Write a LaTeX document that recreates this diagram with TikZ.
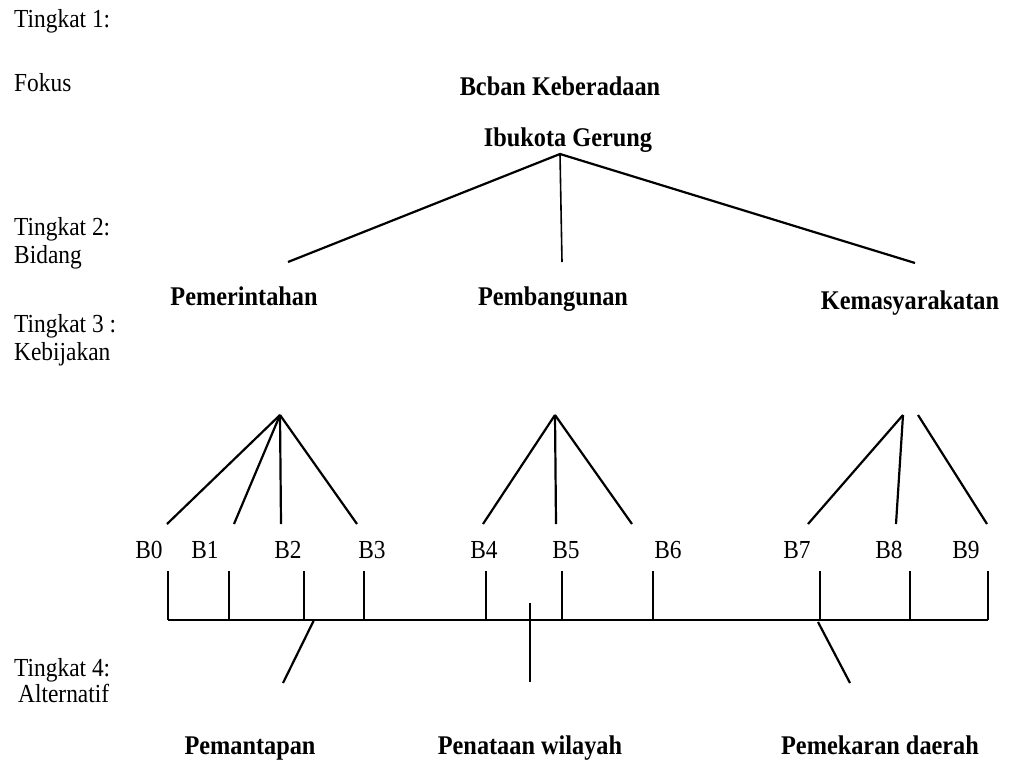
\documentclass[tikz,border=0pt]{standalone}
\usepackage{fontspec}
\setmainfont{Liberation Serif}[FakeStretch=0.9]
\begin{document}
\begin{tikzpicture}[x=1pt,y=-1pt,
  lvl/.style={font=\fontsize{26}{29}\selectfont, anchor=base west, inner sep=0pt},
  ttl/.style={font=\fontsize{27}{30}\selectfont\bfseries, anchor=base, inner sep=0pt},
  bl/.style={font=\fontsize{26}{29}\selectfont, anchor=base, inner sep=0pt},
  thick line/.style={line width=2.2pt},
  tick/.style={line width=1.6pt}]
\useasboundingbox (0,0) rectangle (1022,762);
% level labels
\node[lvl] (t1) at (14,28) {Tingkat 1:};
\node[lvl] (fk) at (14,92) {Fokus};
\node[lvl] (t2) at (14,235) {Tingkat 2:};
\node[lvl] (bd) at (14,263) {Bidang};
\node[lvl] (t3) at (14,332) {Tingkat 3 :};
\node[lvl] (kb) at (14,360) {Kebijakan};
\node[lvl] (t4) at (14,676) {Tingkat 4:};
\node[lvl] (al) at (18,702) {Alternatif};
% goal
\node[ttl] (g1) at (560,96) {Bcban Keberadaan};
\node[ttl] (g2) at (568,147) {Ibukota Gerung};
\coordinate (apex) at (560,154);
% criteria
\node[ttl] (c1) at (244,305) {Pemerintahan};
\node[ttl] (c2) at (553,305) {Pembangunan};
\node[ttl] (c3) at (910,309) {Kemasyarakatan};
\coordinate (c1t) at (288,262);
\coordinate (c2t) at (562,262);
\coordinate (c3t) at (915,263);
\draw[thick line] (c1t) -- (apex) -- (c3t);
\draw[tick] (apex) -- (c2t);
% sub-criteria apexes
\coordinate (p1) at (280,415);
\coordinate (p2) at (555,415);
\coordinate (p3l) at (903,415);
\coordinate (p3r) at (918,415);
% sub-criteria tops
\coordinate (b0t) at (167,524);
\coordinate (b1t) at (234,524);
\coordinate (b2t) at (281,524);
\coordinate (b3t) at (357,524);
\coordinate (b4t) at (483,524);
\coordinate (b5t) at (556,524);
\coordinate (b6t) at (632,524);
\coordinate (b7t) at (808,524);
\coordinate (b8t) at (896,524);
\coordinate (b9t) at (987,524);
\foreach \b in {b0t,b1t,b2t,b3t} \draw[thick line] (p1) -- (\b);
\foreach \b in {b4t,b5t,b6t} \draw[thick line] (p2) -- (\b);
\draw[thick line] (p3l) -- (b7t);
\draw[thick line] (p3l) -- (b8t);
\draw[thick line] (p3r) -- (b9t);
% B labels
\node[bl] (B0) at (149,558) {B0};
\node[bl] (B1) at (205,558) {B1};
\node[bl] (B2) at (288,558) {B2};
\node[bl] (B3) at (372,558) {B3};
\node[bl] (B4) at (484,558) {B4};
\node[bl] (B5) at (566,558) {B5};
\node[bl] (B6) at (668,558) {B6};
\node[bl] (B7) at (797,558) {B7};
\node[bl] (B8) at (889,558) {B8};
\node[bl] (B9) at (966,558) {B9};
% ticks and base line
\foreach \n/\x in {0/168,1/229,2/304,3/364,4/486,5/562,6/653,7/820,8/910,9/988} {
  \coordinate (k\n) at (\x,571);
  \coordinate (m\n) at (\x,620);
  \draw[tick] (k\n) -- (m\n);
}
\draw[thick line] (m0) -- (m9);
% alternatives
\node[ttl] (a1) at (250,754) {Pemantapan};
\node[ttl] (a2) at (530,754) {Penataan wilayah};
\node[ttl] (a3) at (880,754) {Pemekaran daerah};
\coordinate (a1t) at (314,620);
\coordinate (a1b) at (283,683);
\coordinate (a2t) at (530,603);
\coordinate (a2b) at (530,682);
\coordinate (a3t) at (818,622);
\coordinate (a3b) at (850,683);
\draw[thick line] (a1t) -- (a1b);
\draw[tick] (a2t) -- (a2b);
\draw[thick line] (a3t) -- (a3b);
\end{tikzpicture}
\end{document}
